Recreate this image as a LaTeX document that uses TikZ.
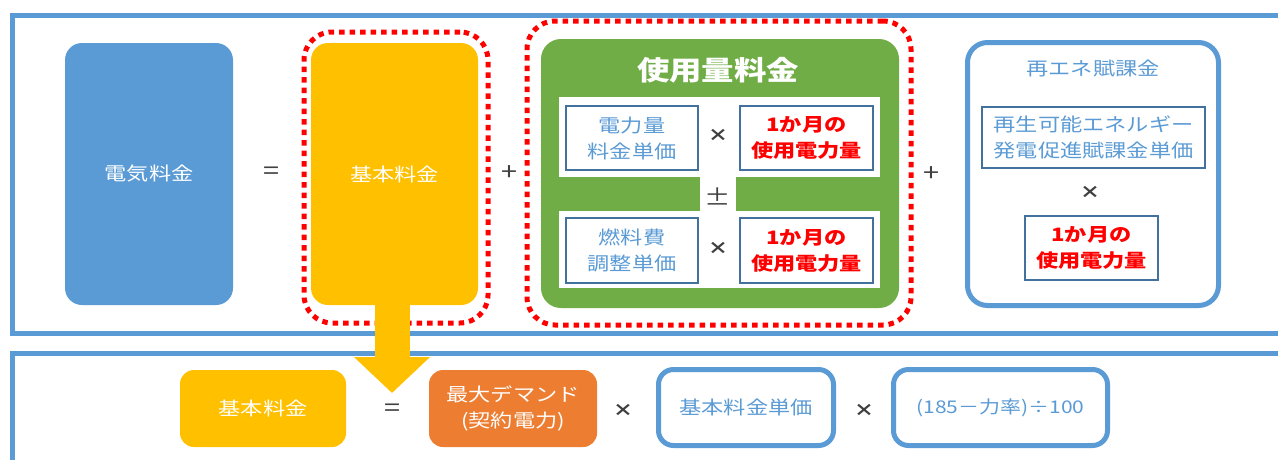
\documentclass[tikz,border=0pt]{standalone}
\usepackage{fontspec}
\setmainfont{Noto Sans CJK JP}[FakeStretch=1.2]
\usetikzlibrary{arrows.meta}
\definecolor{cblue}{HTML}{5B9BD5}
\definecolor{cyellow}{HTML}{FFC000}
\definecolor{cgreen}{HTML}{70AD47}
\definecolor{corange}{HTML}{ED7D31}
\definecolor{cred}{HTML}{FF0000}
\definecolor{cdark}{HTML}{41719C}
\definecolor{cop}{HTML}{404040}
\begin{document}
\begin{tikzpicture}[x=1pt,y=-1pt,
  txt/.style={font=\fontsize{18.5}{26}\selectfont, align=center},
  solidbox/.style={txt, rounded corners=17pt, inner sep=0pt, text=white},
  reddots/.style={draw=cred, line width=5pt, dash pattern=on 5.5pt off 5pt, rounded corners=28pt, inner sep=0pt},
  frameline/.style={draw=cblue, line width=5pt},
  thinbox/.style={txt, draw=cdark, line width=1.6pt, fill=white, inner sep=0pt, minimum width=132pt, minimum height=64pt},
  redtxt/.style={text=cred, font=\bfseries\fontsize{18.5}{26}\selectfont},
  bluetxt/.style={text=cblue},
  roundblue/.style={txt, draw=cblue, line width=5pt, rounded corners=20pt, fill=white, inner sep=0pt, text=cblue},
  op/.style={text=cop, font=\fontsize{24}{26}\selectfont, inner sep=0pt},
  smallop/.style={text=cop, font=\bfseries\fontsize{17}{20}\selectfont, inner sep=0pt},
  whiteband/.style={fill=white, inner sep=0pt}
]
\useasboundingbox (0,0) rectangle (1278,459);
\clip (0,0) rectangle (1278,459);
\fill[white] (0,0) rectangle (1278,459);
% frames
\node[frameline, minimum width=1290pt, minimum height=318.5pt, anchor=north west] (topframe) at (10,12.5) {};
\node[frameline, minimum width=1290pt, minimum height=140pt, anchor=north west] (botframe) at (10,351) {};

% top row
\node[solidbox, fill=cblue, minimum width=168pt, minimum height=262pt] (total) at (149,174) {電気料金};
\node[op] (eq1) at (271,173) {=};
\node[reddots, minimum width=184pt, minimum height=291pt] (basicdot) at (396,177.5) {};
\node[solidbox, fill=cyellow, minimum width=167pt, minimum height=262pt] (basic) at (394.5,174) {基本料金};
\node[op] (plus1) at (509,173) {+};

\node[reddots, minimum width=384pt, minimum height=304pt] (usagedot) at (719,173) {};
\node[solidbox, fill=cgreen, minimum width=358pt, minimum height=269pt, rounded corners=20pt] (usage) at (720,173.5) {};
\node[text=white, font=\bfseries\fontsize{27}{30}\selectfont, inner sep=0pt] (usagetitle) at (718,70) {使用量料金};
\node[whiteband, minimum width=321pt, minimum height=80pt] (band1) at (719.5,137) {};
\node[whiteband, minimum width=321pt, minimum height=77pt] (band2) at (719.5,249.5) {};
\node[whiteband, minimum width=36pt, minimum height=36pt] (bandlink) at (718,194) {};
\node[thinbox, bluetxt] (unit1) at (632,138) {電力量\\料金単価};
\node[smallop] (times1) at (718,135) {×};
\node[thinbox, redtxt, minimum width=133pt] (use1) at (806.5,138) {1か月の\\使用電力量};
\node[op, font=\fontsize{22}{24}\selectfont] (pm) at (718,197) {±};
\node[thinbox, bluetxt, minimum height=65pt] (unit2) at (632,250.5) {燃料費\\調整単価};
\node[smallop] (times2) at (718,248) {×};
\node[thinbox, redtxt, minimum width=133pt, minimum height=65pt] (use2) at (806.5,250.5) {1か月の\\使用電力量};
\node[op] (plus2) at (931,174) {+};

\node[roundblue, minimum width=251pt, minimum height=263pt] (renew) at (1093,174) {};
\node[txt, text=cblue, inner sep=0pt] (renewtitle) at (1093,68) {再エネ賦課金};
\node[thinbox, bluetxt, minimum width=223pt, minimum height=61pt] (renewunit) at (1093.5,137.5) {再生可能エネルギー\\発電促進賦課金単価};
\node[smallop] (times3) at (1090,192) {×};
\node[thinbox, redtxt, minimum width=133pt, minimum height=64pt] (use3) at (1091.5,248) {1か月の\\使用電力量};

% bottom row
\node[solidbox, fill=cyellow, minimum width=166pt, minimum height=77pt, rounded corners=14pt] (basic2) at (263,408.5) {基本料金};
\node[op] (eq2) at (392,410) {=};
\node[solidbox, fill=corange, minimum width=168pt, minimum height=77pt, rounded corners=14pt] (demand) at (513,408.5) {最大デマンド\\(契約電力)};
\node[smallop] (times4) at (623,410) {×};
\node[roundblue, minimum width=175pt, minimum height=76pt, rounded corners=15pt] (basicunit) at (746,407.5) {基本料金単価};
\node[smallop] (times5) at (864,410) {×};
\node[roundblue, minimum width=214pt, minimum height=76pt, rounded corners=15pt, font=\fontsize{17.5}{20}\selectfont] (factor) at (1000.5,407.5) {(185－力率)÷100};

% arrow
\coordinate (tip) at (392,393);
\draw[cyellow, line width=35pt, -{Triangle[width=74pt,length=36pt]}] ([xshift=-2.5pt,yshift=5pt]basic.south) -- (tip);
\end{tikzpicture}
\end{document}
